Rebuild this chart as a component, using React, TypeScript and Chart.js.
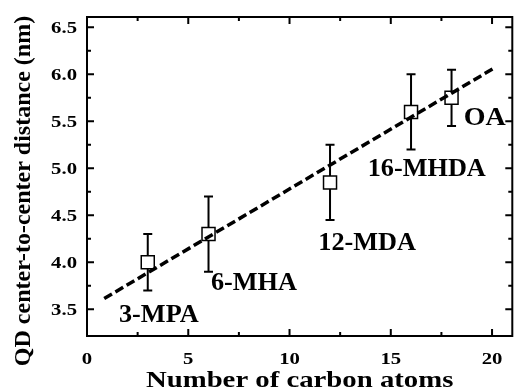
import React, { useEffect, useRef } from "react";
import { Chart, registerables } from "chart.js";

Chart.register(...registerables);

// ---- data ----
const carbonAtoms = [3, 6, 12, 16, 18];
const distance = [4.0, 4.3, 4.85, 5.6, 5.75];
const errLow = [3.7, 3.9, 4.45, 5.2, 5.45];
const errHigh = [4.3, 4.7, 5.25, 6.0, 6.05];
const ligandNames = ["3-MPA", "6-MHA", "12-MDA", "16-MHDA", "OA"];
const labelAnchorX = [1.58, 6.12, 11.42, 13.86, 18.6];
const labelAnchorY = [3.45, 3.79, 4.22, 5.01, 5.55];
const fitX = [0.85, 20.05];
const fitY = [3.615, 6.06];
const xMajor = [0, 5, 10, 15, 20];
const xMinor = [2.5, 7.5, 12.5, 17.5];
const xTickLabels = ["0", "5", "10", "15", "20"];
const yMajor = [3.5, 4.0, 4.5, 5.0, 5.5, 6.0, 6.5];
const yMinor = [3.75, 4.25, 4.75, 5.25, 5.75, 6.25];
const yTickLabels = ["3.5", "4.0", "4.5", "5.0", "5.5", "6.0", "6.5"];
const xTitle = "Number of carbon atoms";
const yTitle = "QD center-to-center distance (nm)";

const FONT = "\"Liberation Serif\", \"Times New Roman\", serif";

function drawText(
  ctx: CanvasRenderingContext2D,
  text: string,
  x: number,
  y: number,
  size: number,
  sx: number,
  align: CanvasTextAlign,
  rotate = 0
) {
  ctx.save();
  ctx.translate(x, y);
  if (rotate) ctx.rotate(rotate);
  ctx.scale(sx, 1);
  ctx.font = `bold ${size}px ${FONT}`;
  ctx.textAlign = align;
  ctx.textBaseline = "alphabetic";
  ctx.fillStyle = "#000";
  ctx.fillText(text, 0, 0);
  ctx.restore();
}

const framePlugin = {
  id: "frame",
  beforeDatasetsDraw(chart: any) {
    const ctx = chart.ctx as CanvasRenderingContext2D;
    const xs = chart.scales.x;
    const ys = chart.scales.y;
    ctx.save();
    ctx.strokeStyle = "#000";
    ctx.lineWidth = 2;
    for (let i = 0; i < carbonAtoms.length; i++) {
      const px = xs.getPixelForValue(carbonAtoms[i]);
      const lo = ys.getPixelForValue(errLow[i]);
      const hi = ys.getPixelForValue(errHigh[i]);
      ctx.beginPath();
      ctx.moveTo(px, lo);
      ctx.lineTo(px, hi);
      ctx.moveTo(px - 4.5, lo);
      ctx.lineTo(px + 4.5, lo);
      ctx.moveTo(px - 4.5, hi);
      ctx.lineTo(px + 4.5, hi);
      ctx.stroke();
    }
    ctx.restore();
  },
  afterDraw(chart: any) {
    const ctx = chart.ctx as CanvasRenderingContext2D;
    const xs = chart.scales.x;
    const ys = chart.scales.y;
    const a = chart.chartArea;
    ctx.save();
    ctx.strokeStyle = "#000";
    const tick = (vals: number[], len: number, horiz: boolean) => {
      ctx.lineWidth = 2;
      ctx.beginPath();
      for (const v of vals) {
        if (horiz) {
          const p = xs.getPixelForValue(v);
          ctx.moveTo(p, a.bottom);
          ctx.lineTo(p, a.bottom - len);
          ctx.moveTo(p, a.top);
          ctx.lineTo(p, a.top + len);
        } else {
          const p = ys.getPixelForValue(v);
          ctx.moveTo(a.left, p);
          ctx.lineTo(a.left + len, p);
          ctx.moveTo(a.right, p);
          ctx.lineTo(a.right - len, p);
        }
      }
      ctx.stroke();
    };
    tick(xMajor, 7, true);
    tick(xMinor, 4, true);
    tick(yMajor, 7, false);
    tick(yMinor, 4, false);
    ctx.lineWidth = 2;
    ctx.strokeRect(a.left, a.top, a.right - a.left, a.bottom - a.top);
    ctx.restore();

    for (let i = 0; i < xMajor.length; i++) {
      drawText(ctx, xTickLabels[i], xs.getPixelForValue(xMajor[i]), a.bottom + 27.5, 17, 1.22, "center");
    }
    for (let i = 0; i < yMajor.length; i++) {
      drawText(ctx, yTickLabels[i], a.left - 10, ys.getPixelForValue(yMajor[i]) + 5.7, 17, 1.22, "right");
    }
    drawText(ctx, xTitle, (a.left + a.right) / 2, 387, 23, 1.25, "center");
    drawText(ctx, yTitle, 29.5, 191, 24, 1, "center", -Math.PI / 2);
    for (let i = 0; i < ligandNames.length; i++) {
      drawText(
        ctx,
        ligandNames[i],
        xs.getPixelForValue(labelAnchorX[i]),
        ys.getPixelForValue(labelAnchorY[i]) + 8.3,
        25,
        i === ligandNames.length - 1 ? 1.12 : 1.05,
        "left"
      );
    }
  },
};

export default function App() {
  const ref = useRef<HTMLCanvasElement>(null);
  useEffect(() => {
    if (!ref.current) return;
    const chart = new Chart(ref.current, {
      type: "scatter",
      data: {
        datasets: [
          {
            type: "line",
            label: "fit",
            data: fitX.map((x, i) => ({ x, y: fitY[i] })),
            borderColor: "#000",
            borderWidth: 3.5,
            borderDash: [9, 4],
            pointRadius: 0,
            fill: false,
          } as any,
          {
            label: "data",
            data: carbonAtoms.map((x, i) => ({ x, y: distance[i] })),
            pointStyle: "rect",
            pointRadius: 9.2,
            pointBackgroundColor: "#fff",
            pointBorderColor: "#000",
            pointBorderWidth: 1.5,
          },
        ],
      },
      options: {
        responsive: false,
        animation: false,
        devicePixelRatio: 1,
        layout: { padding: { left: 87, top: 17, right: 5, bottom: 56 } },
        plugins: { legend: { display: false }, tooltip: { enabled: false } },
        scales: {
          x: { type: "linear", min: 0, max: 21, display: false },
          y: { type: "linear", min: 3.216, max: 6.61, display: false },
        },
      },
      plugins: [framePlugin],
    });
    let alive = true;
    const fonts = (document as any).fonts;
    if (fonts && fonts.load) {
      fonts
        .load(`bold 24px "Liberation Serif"`, "QD0123456789ABCMNPHOnumber")
        .then(() => {
          if (alive) chart.update();
        })
        .catch(() => {});
    }
    return () => {
      alive = false;
      chart.destroy();
    };
  }, []);
  return (
    <div style={{ position: "fixed", left: 0, top: 0, width: 523, height: 392, background: "#fff" }}>
      <canvas ref={ref} width={523} height={392} style={{ display: "block" }} />
    </div>
  );
}
